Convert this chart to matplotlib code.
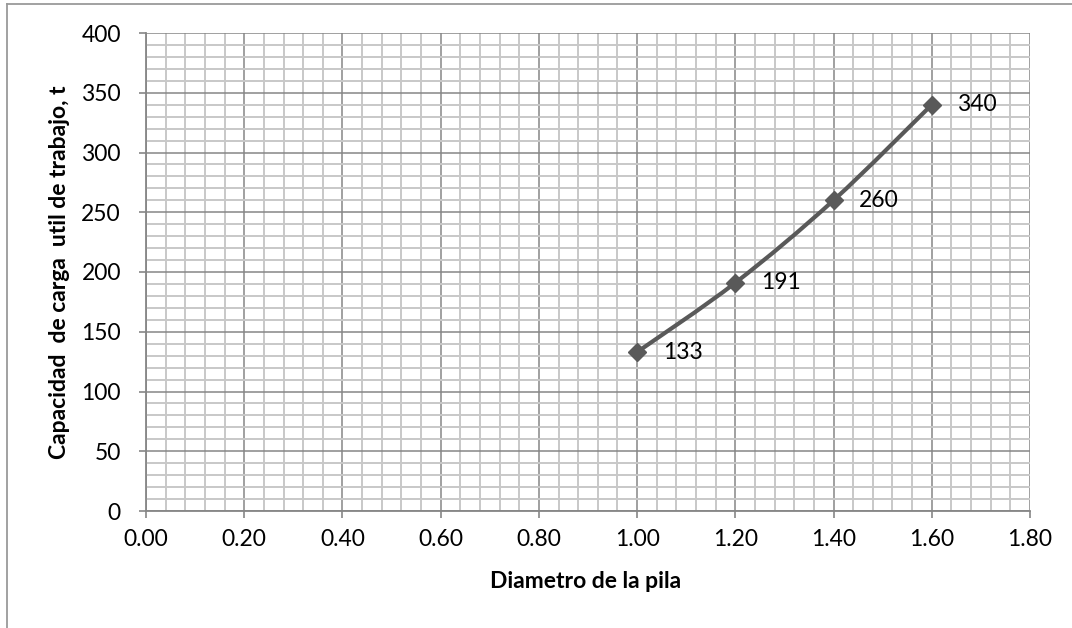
import matplotlib
matplotlib.use("Agg")
import matplotlib.pyplot as plt
from matplotlib.path import Path
from matplotlib.patches import PathPatch
from matplotlib.ticker import MultipleLocator, FormatStrFormatter
from matplotlib.lines import Line2D

plt.rcParams['font.family'] = ['Lato', 'DejaVu Sans']

diametro = [1.0, 1.2, 1.4, 1.6]
capacidad = [133, 191, 260, 340]
etiquetas = ["133", "191", "260", "340"]

xlabel = "Diametro de la pila"
ylabel = "Capacidad  de carga  util de trabajo, t"

LINE_C = "#595959"
MAJ_C = "#868686"
MIN_C = "#c8c8c8"
FS = 16.5

fig = plt.figure(figsize=(10.72, 6.28), dpi=100)
ax = fig.add_axes([146/1072, 1-511/628, (1030-146)/1072, (511-33)/628])

ax.set_xlim(0, 1.8)
ax.set_ylim(0, 400)
ax.xaxis.set_major_locator(MultipleLocator(0.2))
ax.xaxis.set_minor_locator(MultipleLocator(0.04))
ax.yaxis.set_major_locator(MultipleLocator(50))
ax.yaxis.set_minor_locator(MultipleLocator(10))
ax.xaxis.set_major_formatter(FormatStrFormatter('%.2f'))

ax.grid(which='minor', color=MIN_C, linewidth=1.4, zorder=0)
ax.grid(which='major', color=MAJ_C, linewidth=1.1, zorder=0.5)
ax.set_axisbelow(True)

for s in ['top', 'right']:
    ax.spines[s].set_visible(False)
for s in ['left', 'bottom']:
    ax.spines[s].set_color(MAJ_C)
    ax.spines[s].set_linewidth(1.3)

ax.tick_params(which='major', direction='out', length=5, width=1.2, color=MAJ_C,
               labelsize=FS, labelcolor='black')
ax.tick_params(axis='y', which='major', pad=13)
ax.tick_params(axis='x', which='major', pad=8)
ax.tick_params(which='minor', length=0)

# Smoothed (Excel-like) Bezier curve through the points
pts = list(zip(diametro, capacidad))
verts = [pts[0]]
codes = [Path.MOVETO]
n = len(pts)
for i in range(n - 1):
    p0 = pts[i - 1] if i > 0 else pts[i]
    p1 = pts[i]
    p2 = pts[i + 1]
    p3 = pts[i + 2] if i + 2 < n else pts[i + 1]
    c1 = (p1[0] + (p2[0] - p0[0]) / 6, p1[1] + (p2[1] - p0[1]) / 6)
    c2 = (p2[0] - (p3[0] - p1[0]) / 6, p2[1] - (p3[1] - p1[1]) / 6)
    verts += [c1, c2, p2]
    codes += [Path.CURVE4] * 3
ax.add_patch(PathPatch(Path(verts, codes), facecolor='none', edgecolor=LINE_C,
                       linewidth=3.0, zorder=3, capstyle='round'))
ax.plot(diametro, capacidad, linestyle='none', marker='D', markersize=9.5,
        color=LINE_C, zorder=4)

for x, y, t in zip(diametro, capacidad, etiquetas):
    ax.annotate(t, (x, y), xytext=(18.5, 0), textcoords='offset points',
                ha='left', va='center', fontsize=FS, color='black', zorder=5)

fig.text(586/1072, 1-581/628, xlabel, ha='center', va='center',
         fontsize=FS, fontweight='bold')
fig.text(60/1072, 1-272/628, ylabel, ha='center', va='center',
         fontsize=FS, fontweight='bold', rotation=90)

# Outer chart border (top and left visible)
fig.add_artist(Line2D([7/1072, 7/1072], [0, 1-4/628], transform=fig.transFigure,
                      color='#9a9a9a', linewidth=1.3))
fig.add_artist(Line2D([7/1072, 1], [1-4/628, 1-4/628], transform=fig.transFigure,
                      color='#9a9a9a', linewidth=1.3))

fig.savefig("out.png", dpi=100, facecolor='white')
